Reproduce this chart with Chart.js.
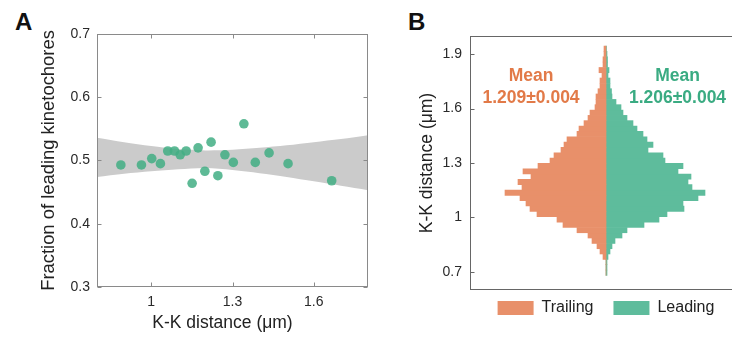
<!DOCTYPE html>
<html>
<head>
<meta charset="utf-8">
<script src="https://cdn.jsdelivr.net/npm/chart.js@4.4.1/dist/chart.umd.min.js"></script>
<style>
  html, body { margin: 0; padding: 0; background: #fff; overflow: hidden; }
  body { position: relative; width: 732px; height: 339px; font-family: "Liberation Sans", Arial, sans-serif; }
  .panel-label { position: absolute; font-weight: bold; font-size: 24px; line-height: 24px; color: #111; }
  #wrapA { position: absolute; left: 0; top: 0; width: 380px; height: 339px; }
  #wrapB { position: absolute; left: 400px; top: 0; width: 345px; height: 339px; }
</style>
</head>
<body>
<div class="panel-label" style="left:15px; top:10px;">A</div>
<div class="panel-label" style="left:408px; top:10px;">B</div>
<div id="wrapA"><canvas id="chartA" width="380" height="339"></canvas></div>
<div id="wrapB"><canvas id="chartB" width="345" height="339"></canvas></div>

<script>
// Panel A: fraction of leading kinetochores vs K-K distance
const kkDistance = [0.888, 0.964, 1.002, 1.034, 1.061, 1.086, 1.107, 1.129, 1.151, 1.173,
                    1.198, 1.221, 1.246, 1.272, 1.303, 1.342, 1.384, 1.435, 1.505, 1.666];
const leadingFraction = [0.493, 0.493, 0.503, 0.495, 0.515, 0.515, 0.509, 0.515, 0.464, 0.520,
                         0.483, 0.529, 0.476, 0.509, 0.497, 0.558, 0.497, 0.512, 0.495, 0.468];

// confidence band of the linear fit
const bandX = [0.8, 0.9, 1.0, 1.1, 1.2, 1.3, 1.4, 1.5, 1.6, 1.7, 1.8];
const bandUpper = [0.536, 0.529, 0.523, 0.518, 0.516, 0.517, 0.520, 0.524, 0.529, 0.534, 0.540];
const bandLower = [0.474, 0.479, 0.483, 0.486, 0.488, 0.485, 0.480, 0.474, 0.467, 0.460, 0.453];

const ticksAX = [1, 1.3, 1.6];
const ticksAY = [0.3, 0.4, 0.5, 0.6, 0.7];

// Panel B: K-K distance histograms (bin centres in um, counts per bin)
const kkBins = [0.695, 0.725, 0.754, 0.783, 0.813, 0.842, 0.871, 0.901, 0.930, 0.960, 0.989,
                1.019, 1.048, 1.078, 1.107, 1.136, 1.166, 1.195, 1.225, 1.254, 1.283,
                1.313, 1.342, 1.372, 1.401, 1.430, 1.460, 1.489, 1.519, 1.548, 1.577,
                1.607, 1.636, 1.666, 1.695, 1.724, 1.754, 1.783, 1.812, 1.842, 1.871,
                1.901, 1.930];
const trailingCounts = [0, 0, 0, 3, 6, 9, 14, 18, 29, 43, 49,
                        69, 76, 80, 86, 101, 84, 88, 75, 83, 68,
                        56, 52, 45, 42, 39, 29, 27, 22, 18, 16,
                        11, 10, 10, 8, 6, 6, 4, 7, 3, 3,
                        2, 2];
const leadingCounts = [1, 1, 1, 2, 4, 6, 9, 16, 21, 38, 53,
                       61, 78, 77, 92, 99, 86, 82, 85, 72, 77,
                       59, 57, 42, 47, 41, 37, 31, 27, 21, 17,
                       15, 10, 6, 5.5, 4, 4, 2, 3, 1.5, 1.5,
                       1, 0.5];
const ticksBY = [0.7, 1, 1.3, 1.6, 1.9];
const trailingMean = '1.209±0.004';
const leadingMean = '1.206±0.004';

const ORANGE = '#e8906a';
const GREEN = '#5ebc9c';
const FONT = '"Liberation Sans", Arial, sans-serif';

Chart.defaults.font.family = FONT;
Chart.defaults.color = '#2a2a2a';
Chart.defaults.animation = false;

const noGrid = { display: false, drawTicks: false, tickLength: 0 };

// box around the plot with inward tick marks
function framePlugin(id, sides, color) {
  return {
    id: id,
    afterDatasetsDraw(chart) {
      const { ctx, chartArea: a, scales } = chart;
      const l = Math.round(a.left) + 0.5, r = Math.round(a.right) - 0.5;
      const t = Math.round(a.top) + 0.5, b = Math.round(a.bottom) - 0.5;
      ctx.save();
      ctx.strokeStyle = color;
      ctx.lineWidth = 1;
      ctx.strokeRect(l, t, r - l, b - t);
      ctx.beginPath();
      if (sides.x) {
        scales.x.ticks.forEach(tk => {
          const px = Math.round(scales.x.getPixelForValue(tk.value)) + 0.5;
          ctx.moveTo(px, b); ctx.lineTo(px, b - 4);
          ctx.moveTo(px, t); ctx.lineTo(px, t + 4);
        });
      }
      if (sides.y) {
        scales.y.ticks.forEach(tk => {
          const py = Math.round(scales.y.getPixelForValue(tk.value)) + 0.5;
          ctx.moveTo(l, py); ctx.lineTo(l + 4, py);
          if (sides.right) { ctx.moveTo(r, py); ctx.lineTo(r - 4, py); }
        });
      }
      ctx.stroke();
      ctx.restore();
    }
  };
}

const xTitleA = {
  id: 'xTitleA',
  afterDraw(chart) {
    const { ctx, chartArea: a } = chart;
    ctx.save();
    ctx.font = '17.5px ' + FONT;
    ctx.fillStyle = '#222';
    ctx.textAlign = 'center';
    ctx.textBaseline = 'middle';
    ctx.fillText('K-K distance (\u03bcm)', (a.left + a.right) / 2 - 10, 323);
    ctx.restore();
  }
};

new Chart(document.getElementById('chartA'), {
  type: 'scatter',
  data: {
    datasets: [
      {
        label: 'Kinetochores',
        data: kkDistance.map((x, i) => ({ x: x, y: leadingFraction[i] })),
        backgroundColor: 'rgba(66, 174, 132, 0.85)',
        borderWidth: 0,
        pointRadius: 4.8,
        order: 0
      },
      {
        type: 'line',
        label: 'upper',
        data: bandX.map((x, i) => ({ x: x, y: bandUpper[i] })),
        borderWidth: 0,
        pointRadius: 0,
        tension: 0.3,
        backgroundColor: '#cbcbcb',
        fill: '+1',
        order: 1
      },
      {
        type: 'line',
        label: 'lower',
        data: bandX.map((x, i) => ({ x: x, y: bandLower[i] })),
        borderWidth: 0,
        pointRadius: 0,
        tension: 0.3,
        fill: false,
        order: 1
      }
    ]
  },
  options: {
    responsive: false,
    layout: { padding: { left: 37, top: 34, right: 12, bottom: 0 } },
    plugins: { legend: { display: false }, tooltip: { enabled: false } },
    scales: {
      x: {
        type: 'linear',
        min: 0.8,
        max: 1.8,
        offset: false,
        grid: noGrid,
        border: { display: false },
        afterBuildTicks: s => { s.ticks = ticksAX.map(v => ({ value: v })); },
        afterFit: s => { s.height = 52; },
        ticks: { font: { size: 14 }, padding: 7, callback: v => String(v) }
      },
      y: {
        min: 0.3,
        max: 0.7,
        offset: false,
        grid: noGrid,
        border: { display: false },
        afterBuildTicks: s => { s.ticks = ticksAY.map(v => ({ value: v })); },
        afterFit: s => { s.width = 60; },
        ticks: { font: { size: 14 }, padding: 7, callback: v => v.toFixed(1) },
        title: {
          display: true,
          text: 'Fraction of leading kinetochores',
          font: { size: 18.4 },
          color: '#222',
          padding: { top: 1, bottom: 0 }
        }
      }
    }
  },
  plugins: [framePlugin('frameA', { x: true, y: true, right: true }, '#8a8a8a'), xTitleA]
});

const meanText = {
  id: 'meanText',
  afterDraw(chart) {
    const { ctx, scales } = chart;
    ctx.save();
    ctx.font = 'bold 17.5px ' + FONT;
    ctx.textAlign = 'center';
    ctx.textBaseline = 'middle';
    const items = [
      { x: -75, color: '#e27a48', value: trailingMean },
      { x: 71.5, color: '#3aab82', value: leadingMean }
    ];
    items.forEach(it => {
      const px = scales.x.getPixelForValue(it.x);
      ctx.fillStyle = it.color;
      ctx.fillText('Mean', px, scales.y.getPixelForValue(1.78));
      ctx.fillText(it.value, px, scales.y.getPixelForValue(1.658));
    });
    ctx.restore();
  }
};

const legendShift = {
  id: 'legendShift',
  afterLayout(chart) {
    chart.legend.top -= 10;
    chart.legend.bottom -= 10;
  }
};

new Chart(document.getElementById('chartB'), {
  type: 'bar',
  data: {
    datasets: [
      {
        label: 'Trailing',
        data: kkBins.map((v, i) => ({ y: v, x: -trailingCounts[i] })),
        backgroundColor: ORANGE,
        borderWidth: 0,
        grouped: false,
        barPercentage: 1,
        categoryPercentage: 1
      },
      {
        label: 'Leading',
        data: kkBins.map((v, i) => ({ y: v, x: leadingCounts[i] })),
        backgroundColor: GREEN,
        borderWidth: 0,
        grouped: false,
        barPercentage: 1,
        categoryPercentage: 1
      }
    ]
  },
  options: {
    responsive: false,
    indexAxis: 'y',
    layout: { padding: { left: 0, top: 36, right: 3, bottom: 3 } },
    plugins: {
      tooltip: { enabled: false },
      legend: {
        position: 'bottom',
        fullSize: false,
        labels: {
          boxWidth: 36,
          boxHeight: 14,
          padding: 20,
          color: '#222',
          font: { size: 16 }
        }
      }
    },
    scales: {
      x: {
        type: 'linear',
        min: -136,
        max: 136,
        offset: false,
        display: false
      },
      y: {
        type: 'linear',
        min: 0.6,
        max: 2.0,
        offset: false,
        grid: noGrid,
        border: { display: false },
        afterBuildTicks: s => { s.ticks = ticksBY.map(v => ({ value: v })); },
        afterFit: s => { s.width = 70; },
        ticks: { font: { size: 14 }, padding: 8, callback: v => String(v) },
        title: {
          display: true,
          text: 'K-K distance (\u03bcm)',
          font: { size: 17.5 },
          color: '#222',
          padding: { top: 17, bottom: 0 }
        }
      }
    }
  },
  plugins: [framePlugin('frameB', { x: false, y: true, right: false }, '#666'), meanText, legendShift]
});
</script>
</body>
</html>
